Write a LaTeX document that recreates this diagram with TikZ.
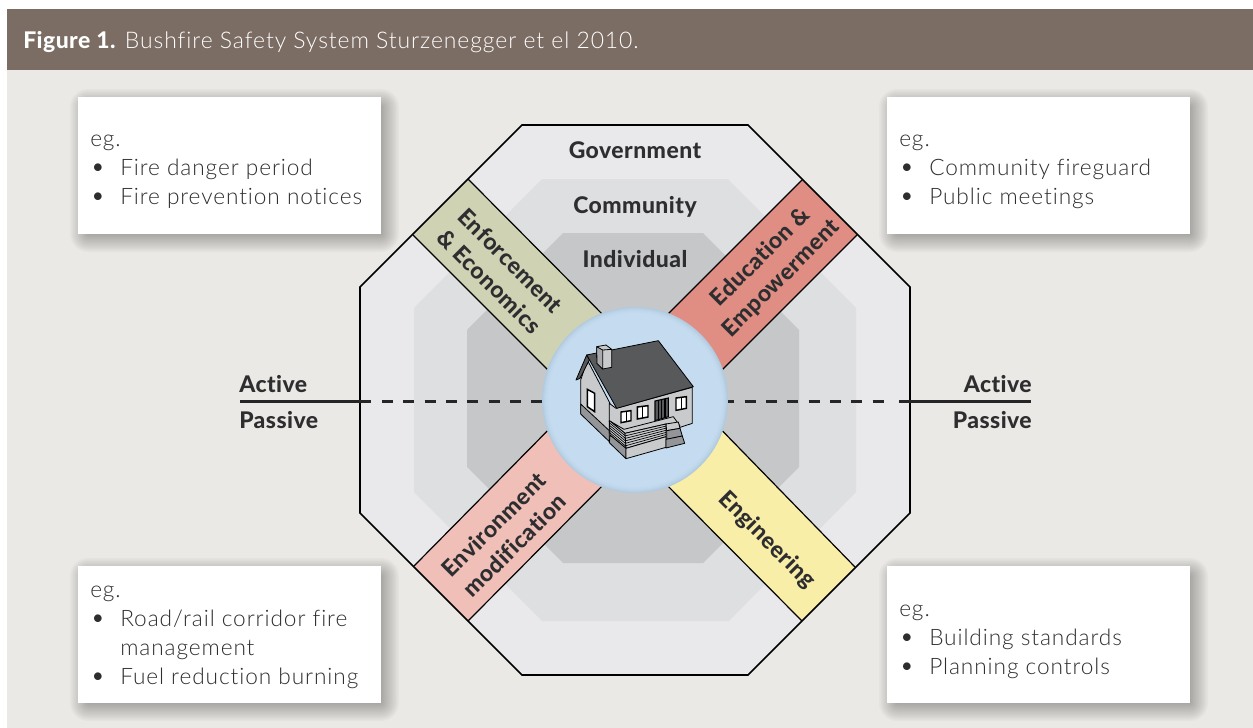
\documentclass[tikz,border=0pt]{standalone}
\usepackage{fontspec}
\setmainfont{Lato Light}[LetterSpace=4,Ligatures=NoCommon]
\newfontfamily\boldf{Lato Heavy}[LetterSpace=2,Ligatures=NoCommon]
\usetikzlibrary{calc}
\definecolor{hdr}{HTML}{7B6C64}
\definecolor{panel}{HTML}{EBE9E5}
\definecolor{octA}{HTML}{E9E9EB}
\definecolor{octB}{HTML}{DEDFE1}
\definecolor{octC}{HTML}{C6C7C9}
\definecolor{bandEnf}{HTML}{D0D2B4}
\definecolor{bandEdu}{HTML}{E08E83}
\definecolor{bandEnv}{HTML}{F0BFB8}
\definecolor{bandEng}{HTML}{F8EEA8}
\definecolor{disc}{HTML}{C5DCF0}
\definecolor{discE}{HTML}{B2CADF}
\definecolor{txt}{HTML}{2E2E30}
\definecolor{roof}{HTML}{58595B}
\definecolor{wall}{HTML}{C9CACC}
\definecolor{wallD}{HTML}{939598}
\newcommand{\boxshadow}[4]{%
  \foreach \g in {13,11.5,...,-5}{%
    \fill[black,opacity=0.022,rounded corners={max(\g+5,0.1)*0.75pt}]
      ($(#1,#2)+(5-\g,5-\g)$) rectangle ($(#3,#4)+(5+\g,5+\g)$);}%
}
\tikzset{
  x=0.75pt,y=-0.75pt,
  egbox/.style={anchor=north west,align=left,inner sep=0pt,text=txt,font=\fontsize{17}{21.6}\selectfont},
  bandline/.style={draw=black,line width=0.9pt},
  bandlabel/.style={font=\boldf\fontsize{17.2}{22}\selectfont,text=txt,align=center,inner sep=0pt},
  lvl/.style={font=\boldf\fontsize{17.2}{19}\selectfont,text=txt,inner sep=0pt,anchor=base},
  axislabel/.style={font=\boldf\fontsize{17.2}{19}\selectfont,text=txt,inner sep=0pt},
  hline/.style={draw=black,line width=0.6pt,line join=round},
}
\newcommand{\bul}{\makebox[22.5pt][l]{\scalebox{1.15}{\textbullet}}}
\begin{document}
\begin{tikzpicture}
\useasboundingbox (0,0) rectangle (1253,728);
\fill[white] (0,0) rectangle (1253,728);
\fill[panel] (7,70) rectangle (1253,728);
\fill[hdr] (7,9) rectangle (1253,70);
\node[anchor=base west,inner sep=0pt,text=white,font=\fontsize{17.2}{19}\selectfont] (title) at (23,48)
  {{\boldf Figure 1.} Bushfire Safety System Sturzenegger et el 2010.};

% boxes
\boxshadow{78}{97}{381}{234}
\boxshadow{887}{97}{1190}{234}
\boxshadow{78}{566}{381}{703}
\boxshadow{887}{566}{1190}{703}
\fill[white] (78,97) rectangle (381,234);
\fill[white] (887,97) rectangle (1190,234);
\fill[white] (78,566) rectangle (381,703);
\fill[white] (887,566) rectangle (1190,703);
\node[egbox] (tl) at (90,135) {eg.\\\bul Fire danger period\\\bul Fire prevention notices};
\node[egbox] (tr) at (899,135) {eg.\\\bul Community fireguard\\\bul Public meetings};
\node[egbox] (bl) at (90,586) {eg.\\\bul Road/rail corridor fire\\\hphantom{\bul}management\\\bul Fuel reduction burning};
\node[egbox] (br) at (899,605) {eg.\\\bul Building standards\\\bul Planning controls};

% octagons
\fill[octA] (522,125)--(748,125)--(910,287)--(910,513)--(748,675)--(522,675)--(360,513)--(360,287)--cycle;
\fill[octB] (542,179)--(728,179)--(856,308)--(856,492)--(729,621)--(542,621)--(414,492)--(414,308)--cycle;
\fill[octC] (563,233)--(703,233)--(799,330)--(799,467)--(703,563)--(563,563)--(467,467)--(467,330)--cycle;
% bands
\fill[bandEnf] (468,179)--(413,235)--(565,387)--(620,332)--cycle;
\fill[bandEdu] (802,180)--(857,235)--(705,387)--(650,332)--cycle;
\fill[bandEnv] (468,621)--(414,566)--(565,413)--(620,468)--cycle;
\fill[bandEng] (802,621)--(855,567)--(705,413)--(650,468)--cycle;
\draw[bandline] (468,179)--(620,332) (413,235)--(565,387);
\draw[bandline] (802,180)--(650,332) (857,235)--(705,387);
\draw[bandline] (468,621)--(620,468) (414,566)--(565,413);
\draw[bandline] (802,621)--(650,468) (855,567)--(705,413);
\draw[black,line width=1.2pt,line join=miter] (522,125)--(748,125)--(910,287)--(910,513)--(748,675)--(522,675)--(360,513)--(360,287)--cycle;

% axis
\coordinate (axL) at (240,401.5);
\coordinate (axR) at (1031,401.5);
\draw[black!85,line width=2pt] (axL)--(371,401.5);
\draw[black!85,line width=2pt] (899,401.5)--(axR);
\draw[black!85,line width=1.75pt,dash pattern=on 8.25pt off 7.75pt] (382,401.5)--(888,401.5);
\node[axislabel,anchor=base west] (a1) at (239,392) {Active};
\node[axislabel,anchor=base west] (p1) at (239,428) {Passive};
\node[axislabel,anchor=base east] (a2) at (1032,392) {Active};
\node[axislabel,anchor=base east] (p2) at (1032,428) {Passive};

% levels
\node[lvl] (gov) at (635,158.5) {Government};
\node[lvl] (com) at (635,213.5) {Community};
\node[lvl] (ind) at (635,267) {Individual};

% band labels
\node[bandlabel,rotate=-45] (enf) at (500,271) {Enforcement\\\& Economics};
\node[bandlabel,rotate=45] (edu) at (771,268) {Education \&\\Empowerment};
\node[bandlabel,rotate=45] (env) at (504,535) {Environment\\modification};
\node[bandlabel,rotate=-45] (eng) at (767,540) {Engineering};

% disc
\foreach \r/\p in {93/0,92/25,91/45,90/65,89/80,88/90,87/100}{\fill[disc!\p!discE] (635,400) circle[radius=\r*0.75pt];}

% house (coordinates of 3x crop)
\begin{scope}[shift={(530,300)},x=0.25pt,y=-0.25pt]
 \path[fill=wall,hline] (152,240)--(172,180)--(240,310)--(240,395)--(152,340)--cycle;
 \path[fill=wallD,hline] (152,312)--(238,392)--(238,425)--(152,342)--cycle;
 \path[fill=wall,hline] (238,310)--(258,325)--(487,262)--(487,370)--(450,382)--(238,400)--cycle;
 \path[fill=roof,hline] (170,165)--(385,122)--(490,260)--(260,325)--cycle;
 \path[fill=roof,hline] (138,240)--(170,165)--(178,180)--(150,235)--cycle;
 \path[fill=wall,hline] (200,140)--(228,135)--(245,148)--(245,202)--(218,207)--(201,190)--cycle;
 \path[fill=wallD!60!wall,hline] (200,140)--(218,150)--(218,207)--(201,190)--cycle;
 \draw[hline] (218,150)--(245,148);
 % windows
 \foreach \a/\b/\c/\d in {273/332/303/368,322/317/354/357,438/290/469/331}{
   \path[fill=white,draw=black,line width=1.1pt] (\a,\b+4)--(\c,\b)--(\c,\d-6)--(\a,\d)--cycle;
   \draw[black,line width=0.6pt] ($(\a,\b+4)!0.5!(\c,\b)$)--($(\a,\d)!0.5!(\c,\d-6)$);
 }
 \path[fill=white,draw=black,line width=1.1pt] (172,268)--(194,280)--(194,335)--(172,320)--cycle;
 % door
 \path[fill=roof,draw=black,line width=0.8pt] (375,303)--(415,294)--(415,350)--(375,362)--cycle;
 \draw[black,line width=0.9pt] (385,301)--(385,360) (395,299)--(395,357) (405,297)--(405,354);
 % deck top
 \path[fill=wall,hline] (238,362)--(282,388)--(430,350)--(450,378)--(408,372)--(285,400)--cycle;
 % hatched faces
 \path[fill=wall,hline] (238,362)--(285,400)--(288,445)--(240,405)--cycle;
 \path[fill=wall,hline] (285,400)--(408,372)--(408,410)--(288,445)--cycle;
 \foreach \i in {1,...,5}{
   \draw[black,line width=0.5pt] (239,{362+\i*7.2})--(286,{400+\i*7.5});
   \draw[black,line width=0.5pt] (286,{400+\i*7.5})--(408,{372+\i*6.3});
 }
 % base
 \path[fill=wallD,hline] (240,405)--(288,445)--(288,476)--(238,428)--cycle;
 \path[fill=wall,hline] (288,445)--(408,410)--(408,442)--(288,476)--cycle;
 % stairs
 \path[fill=wall,hline] (408,372)--(445,366)--(450,385)--(410,392)--cycle;
 \path[fill=wallD,hline] (410,392)--(450,385)--(457,408)--(410,418)--cycle;
 \path[fill=wallD,hline] (408,418)--(457,408)--(464,430)--(408,444)--cycle;
\end{scope}
\end{tikzpicture}
\end{document}
